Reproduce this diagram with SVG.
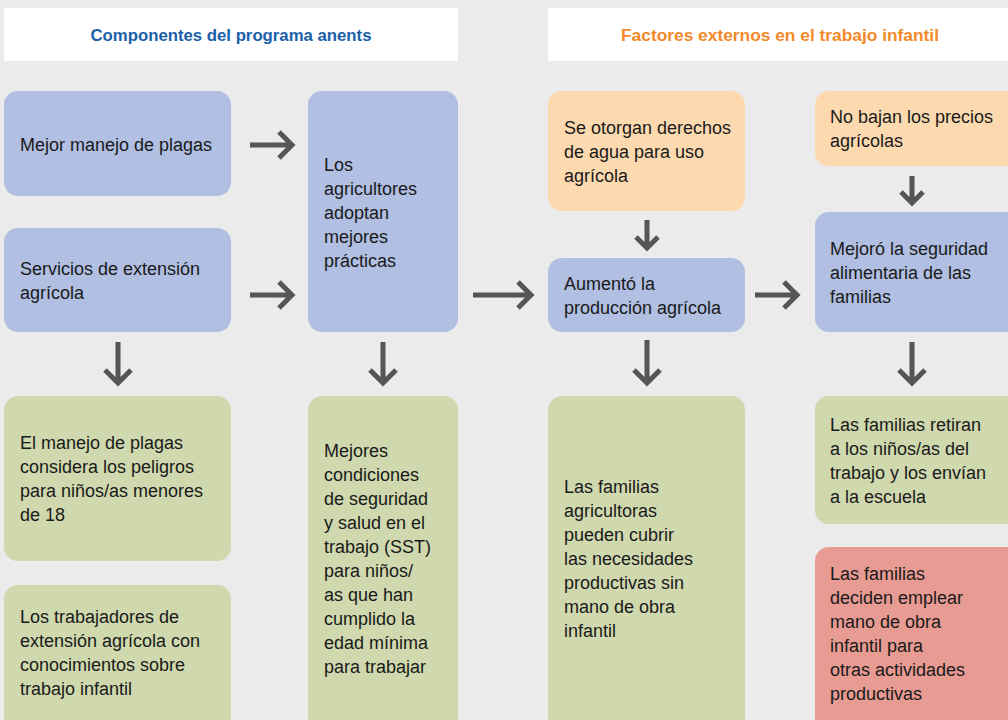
<svg xmlns="http://www.w3.org/2000/svg" width="1008" height="720" viewBox="0 0 1008 720">
<defs>
<style>
.hdr{fill:#ffffff}
.ht{font-family:"Liberation Sans",Arial,sans-serif;font-weight:bold;font-size:16px;text-anchor:middle}
.blue{fill:#b0bfe2}
.green{fill:#d0d8ae}
.orange{fill:#fdd9b0}
.red{fill:#e89b92}
.t{font-family:"Liberation Sans",Arial,sans-serif;font-size:18px;fill:#1a1a1a}
.ar{fill:none;stroke:#555555;stroke-width:5}
</style>
</defs>
<rect x="0" y="0" width="1008" height="720" fill="#ebebeb"/>
<g id="header-left">
<rect class="hdr" x="4" y="8" width="454" height="53"/>
<text class="ht" x="231" y="41" fill="#1a5fa8" textLength="281" lengthAdjust="spacingAndGlyphs">Componentes del programa anents</text>
</g>
<g id="header-right">
<rect class="hdr" x="548" y="8" width="460" height="53"/>
<text class="ht" x="780" y="41" fill="#f28a2a" textLength="318" lengthAdjust="spacingAndGlyphs">Factores externos en el trabajo infantil</text>
</g>
<g id="n1">
<rect class="blue" x="4" y="91" width="227" height="105" rx="14"/>
<text class="t" x="20" y="151">Mejor manejo de plagas</text>
</g>
<g id="n2">
<rect class="blue" x="4" y="228" width="227" height="104" rx="14"/>
<text class="t" x="20" y="275">Servicios de extensión</text>
<text class="t" x="20" y="299">agrícola</text>
</g>
<g id="n3">
<rect class="green" x="4" y="396" width="227" height="165" rx="14"/>
<text class="t" x="20" y="449">El manejo de plagas</text>
<text class="t" x="20" y="473">considera los peligros</text>
<text class="t" x="20" y="497">para niños/as menores</text>
<text class="t" x="20" y="521">de 18</text>
</g>
<g id="n4">
<rect class="green" x="4" y="585" width="227" height="150" rx="14"/>
<text class="t" x="20" y="623">Los trabajadores de</text>
<text class="t" x="20" y="647">extensión agrícola con</text>
<text class="t" x="20" y="671">conocimientos sobre</text>
<text class="t" x="20" y="695">trabajo infantil</text>
</g>
<g id="n5">
<rect class="blue" x="308" y="91" width="150" height="241" rx="14"/>
<text class="t" x="324" y="171">Los</text>
<text class="t" x="324" y="195">agricultores</text>
<text class="t" x="324" y="219">adoptan</text>
<text class="t" x="324" y="243">mejores</text>
<text class="t" x="324" y="267">prácticas</text>
</g>
<g id="n6">
<rect class="green" x="308" y="396" width="150" height="340" rx="14"/>
<text class="t" x="324" y="457">Mejores</text>
<text class="t" x="324" y="481">condiciones</text>
<text class="t" x="324" y="505">de seguridad</text>
<text class="t" x="324" y="529">y salud en el</text>
<text class="t" x="324" y="553">trabajo (SST)</text>
<text class="t" x="324" y="577">para niños/</text>
<text class="t" x="324" y="601">as que han</text>
<text class="t" x="324" y="625">cumplido la</text>
<text class="t" x="324" y="649">edad mínima</text>
<text class="t" x="324" y="673">para trabajar</text>
</g>
<g id="n7">
<rect class="orange" x="548" y="91" width="197" height="120" rx="14"/>
<text class="t" x="564" y="134">Se otorgan derechos</text>
<text class="t" x="564" y="158">de agua para uso</text>
<text class="t" x="564" y="182">agrícola</text>
</g>
<g id="n8">
<rect class="blue" x="548" y="258" width="197" height="74" rx="14"/>
<text class="t" x="564" y="290">Aumentó la</text>
<text class="t" x="564" y="314">producción agrícola</text>
</g>
<g id="n9">
<rect class="green" x="548" y="396" width="197" height="340" rx="14"/>
<text class="t" x="564" y="493">Las familias</text>
<text class="t" x="564" y="517">agricultoras</text>
<text class="t" x="564" y="541">pueden cubrir</text>
<text class="t" x="564" y="565">las necesidades</text>
<text class="t" x="564" y="589">productivas sin</text>
<text class="t" x="564" y="613">mano de obra</text>
<text class="t" x="564" y="637">infantil</text>
</g>
<g id="n10">
<rect class="orange" x="815" y="91" width="213" height="75" rx="14"/>
<text class="t" x="830" y="123">No bajan los precios</text>
<text class="t" x="830" y="147">agrícolas</text>
</g>
<g id="n11">
<rect class="blue" x="815" y="212" width="213" height="120" rx="14"/>
<text class="t" x="830" y="255">Mejoró la seguridad</text>
<text class="t" x="830" y="279">alimentaria de las</text>
<text class="t" x="830" y="303">familias</text>
</g>
<g id="n12">
<rect class="green" x="815" y="396" width="213" height="128" rx="14"/>
<text class="t" x="830" y="431">Las familias retiran</text>
<text class="t" x="830" y="455">a los niños/as del</text>
<text class="t" x="830" y="479">trabajo y los envían</text>
<text class="t" x="830" y="503">a la escuela</text>
</g>
<g id="n13">
<rect class="red" x="815" y="547" width="213" height="190" rx="14"/>
<text class="t" x="830" y="580">Las familias</text>
<text class="t" x="830" y="604">deciden emplear</text>
<text class="t" x="830" y="628">mano de obra</text>
<text class="t" x="830" y="652">infantil para</text>
<text class="t" x="830" y="676">otras actividades</text>
<text class="t" x="830" y="700">productivas</text>
</g>
<g id="connectors">
<path class="ar" d="M250 145H291M279 132L292 145L279 158"/>
<path class="ar" d="M250 295H291M279 282L292 295L279 308"/>
<path class="ar" d="M473 295H530M518 282L531 295L518 308"/>
<path class="ar" d="M755 295H796M784 282L797 295L784 308"/>
<path class="ar" d="M118 342V382M105 370L118 383L131 370"/>
<path class="ar" d="M383 342V382M370 370L383 383L396 370"/>
<path class="ar" d="M647 340V382M634 370L647 383L660 370"/>
<path class="ar" d="M912 342V382M899 370L912 383L925 370"/>
<path class="ar" d="M647 220V247M636 237L647 248L658 237"/>
<path class="ar" d="M912 176V202M901 192L912 203L923 192"/>
</g>
</svg>
